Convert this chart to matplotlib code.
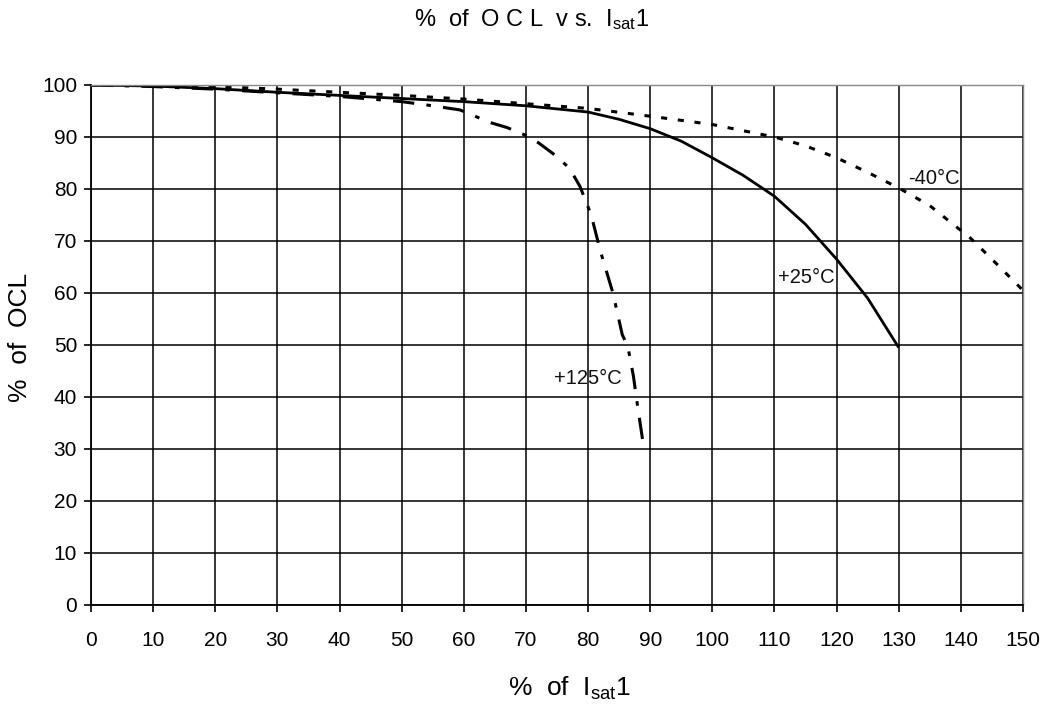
import matplotlib
matplotlib.use("Agg")
import matplotlib.pyplot as plt

plt.rcParams['font.family'] = ['Liberation Sans', 'DejaVu Sans']
plt.rcParams['mathtext.fontset'] = 'custom'
plt.rcParams['mathtext.rm'] = 'Liberation Sans'

# Data
x_25 = [0, 10, 20, 30, 40, 50, 60, 70, 80, 85, 90, 95, 100, 105, 110, 115, 120, 125, 130]
y_25 = [100, 99.8, 99.3, 98.6, 98.0, 97.4, 96.8, 96.0, 94.8, 93.4, 91.6, 89.2, 86.0, 82.6, 78.6, 73.2, 66.5, 59.0, 49.5]

x_m40 = [0, 10, 20, 30, 40, 50, 60, 70, 80, 90, 100, 110, 115, 120, 125, 130, 135, 141.5, 145, 150]
y_m40 = [100, 99.9, 99.7, 99.2, 98.6, 98.0, 97.3, 96.4, 95.5, 94.0, 92.4, 90.0, 88.3, 86.0, 83.2, 80.2, 76.8, 70.6, 66.5, 60.5]

x_125 = [0, 10, 20, 30, 40, 50, 55, 59.4, 64.2, 67, 70, 72, 74.7, 77, 78.7, 80.5, 82, 84, 85.5, 86.4, 87.3, 88, 89]
y_125 = [100, 99.7, 99.2, 98.5, 97.8, 96.8, 96.0, 95.2, 92.8, 91.8, 90.3, 88.9, 86.5, 84.0, 80.5, 75, 68, 60, 52, 49.7, 44, 38, 30]

x_ticks = list(range(0, 151, 10))
y_ticks = list(range(0, 101, 10))

labels = [("-40°C", 131.5, 82.0), ("+25°C", 110.5, 63.0), ("+125°C", 74.5, 43.5)]

fig = plt.figure(figsize=(10.52, 7.06), dpi=100)
ax = fig.add_axes([91/1052, 101/706, 932/1052, 520/706])

ax.plot(x_25, y_25, color='black', lw=2.0, solid_capstyle='butt')
ax.plot(x_m40, y_m40, color='black', lw=2.2, linestyle=(0, (2.0, 3.5)))
ax.plot(x_125, y_125, color='black', lw=2.2, linestyle=(0, (7, 4, 1.5, 4)))

for txt, xx, yy in labels:
    ax.text(xx, yy, txt, fontsize=14.5, color='#111111', ha='left', va='center')

ax.set_xlim(0, 150)
ax.set_ylim(0, 100)
ax.set_xticks(x_ticks)
ax.set_yticks(y_ticks)
ax.tick_params(axis='both', direction='out', length=5, width=1.2, labelsize=15, colors='black')
ax.tick_params(axis='x', pad=14)
ax.tick_params(axis='y', pad=5)
ax.grid(True, color='black', linewidth=1.1)
for s in ['left', 'bottom']:
    ax.spines[s].set_linewidth(1.3)
    ax.spines[s].set_color('black')
for s in ['top', 'right']:
    ax.spines[s].set_linewidth(1.0)
    ax.spines[s].set_color('#888888')

fig.text(532/1052, 1 - 20/706, r'%  of  O C L  v s.  I$\mathregular{_{sat}}$1', fontsize=17, ha='center', va='center')
fig.text(570/1052, 1 - 688/706, r'%  of  I$\mathregular{_{sat}}$1', fontsize=19, ha='center', va='center')
fig.text(20/1052, 1 - 337/706, '%  of  OCL', fontsize=19, ha='center', va='center', rotation=90)

fig.savefig('out.png', dpi=100)
